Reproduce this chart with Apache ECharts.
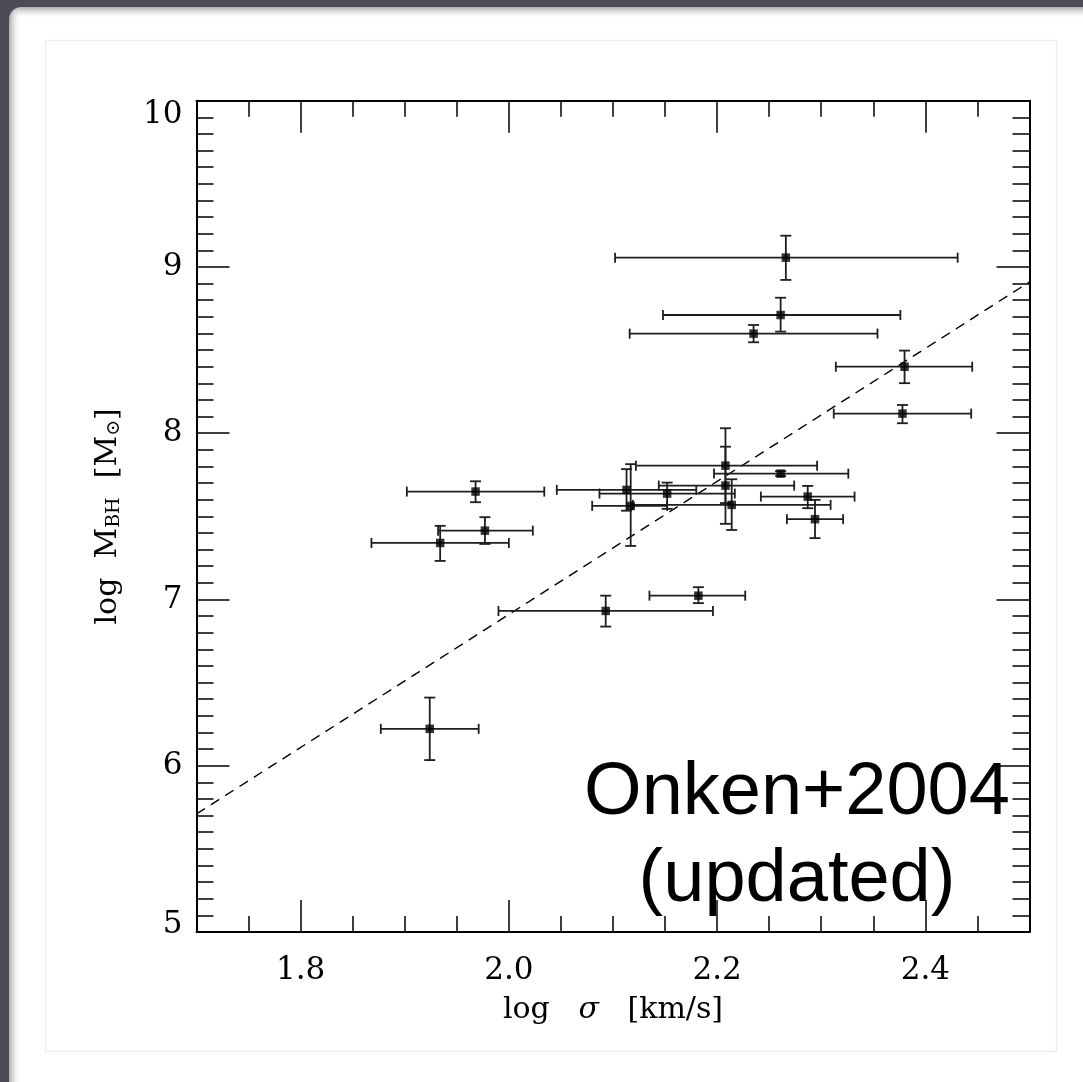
<!DOCTYPE html>
<html>
<head>
<meta charset="utf-8">
<script src="https://cdn.jsdelivr.net/npm/echarts@6/dist/echarts.min.js"></script>
<style>html,body{margin:0;padding:0;background:#4b4b55;}#c{width:1083px;height:1082px;}</style>
</head>
<body>
<div id="c"></div>
<script>
// ---- data ----
const sigma   = [2.266,2.261,2.235,2.380,2.378,2.208,2.261,2.208,2.113,2.117,2.152,2.214,2.287,2.294,1.968,1.977,1.934,2.093,2.182,1.924];
const sigmaLo = [2.102,2.148,2.116,2.314,2.312,2.122,2.197,2.144,2.046,2.080,2.087,2.119,2.242,2.267,1.902,1.932,1.868,1.990,2.135,1.877];
const sigmaHi = [2.431,2.376,2.354,2.445,2.444,2.296,2.326,2.274,2.180,2.152,2.217,2.309,2.332,2.321,2.034,2.023,2.000,2.196,2.227,1.971];
const logM    = [9.056,8.711,8.599,8.400,8.118,7.805,7.757,7.685,7.659,7.563,7.637,7.569,7.619,7.483,7.649,7.414,7.340,6.931,7.023,6.222];
const logMLo  = [8.922,8.611,8.547,8.301,8.060,7.580,7.742,7.455,7.534,7.322,7.545,7.418,7.549,7.369,7.585,7.334,7.232,6.837,6.978,6.034];
const logMHi  = [9.188,8.815,8.651,8.497,8.170,8.030,7.772,7.919,7.784,7.814,7.703,7.723,7.683,7.599,7.711,7.495,7.443,7.023,7.074,6.410];

const fitX = [1.7, 2.5];
const fitY = [5.71, 8.91];

const xTickLabels = [1.8, 2.0, 2.2, 2.4];
const yTickLabels = [5, 6, 7, 8, 9, 10];
const xMinorTicks = [1.75, 1.85, 1.9, 1.95, 2.05, 2.1, 2.15, 2.25, 2.3, 2.35, 2.45];
const yMinorTicks = [];
for (let v = 5; v < 10; v++) { for (let k = 1; k < 10; k++) yMinorTicks.push(Math.round((v + k / 10) * 10) / 10); }

const annotation = ['Onken+2004', '(updated)'];

// ---- chart ----
const chart = echarts.init(document.getElementById('c'), null, {renderer: 'canvas'});
const SERIF = 'DejaVu Serif';
const AX = '#000';
const FS = 31;

const errData = sigma.map((s, i) => [s, sigmaLo[i], sigmaHi[i], logM[i], logMLo[i], logMHi[i]]);
const ptData = sigma.map((s, i) => [s, logM[i]]);
const fitData = fitX.map((x, i) => [x, fitY[i]]);

function xAx(pos, major, withLine, withLabel) {
  return {
    type: 'value', position: pos, min: 1.7, max: 2.5, gridIndex: 0,
    axisLine: {show: withLine, onZero: false, lineStyle: {color: AX, width: 2}},
    axisTick: {show: true, inside: true, length: major ? 32 : 16, customValues: major ? xTickLabels : xMinorTicks,
               lineStyle: {color: AX, width: 1.5}},
    axisLabel: withLabel ? {show: true, customValues: xTickLabels, margin: 23, fontFamily: SERIF, fontSize: FS, color: '#000',
                             formatter: v => v.toFixed(1)} : {show: false},
    splitLine: {show: false}
  };
}
function yAx(pos, major, withLine, withLabel) {
  return {
    type: 'value', position: pos, min: 5, max: 10, gridIndex: 0,
    axisLine: {show: withLine, onZero: false, lineStyle: {color: AX, width: 2}},
    axisTick: {show: true, inside: true, length: major ? 33 : 17, customValues: major ? yTickLabels : yMinorTicks,
               lineStyle: {color: AX, width: 1.5}},
    axisLabel: withLabel ? {show: true, customValues: yTickLabels, margin: 14, fontFamily: SERIF, fontSize: FS, color: '#000',
                             verticalAlignMinLabel: 'bottom', verticalAlignMaxLabel: 'top',
                             formatter: v => (v === 5 ? '{lo|' + v + '}' : (v === 10 ? '{hi|' + v + '}' : String(v))),
                             rich: {lo: {fontFamily: SERIF, fontSize: FS, color: '#000', lineHeight: 14},
                                    hi: {fontFamily: SERIF, fontSize: FS, color: '#000', lineHeight: 28}}}
                          : {show: false},
    splitLine: {show: false}
  };
}

const xa0 = xAx('bottom', true, true, true);
xa0.name = '{n|log   }{i|σ}{n|   [km/s]}';
xa0.nameLocation = 'middle';
xa0.nameGap = 63;
xa0.nameTextStyle = {fontFamily: SERIF, fontSize: 30, color: '#000',
  rich: {n: {fontFamily: SERIF, fontSize: 30, color: '#000'}, i: {fontFamily: SERIF, fontSize: 30, fontStyle: 'italic', color: '#000'}}};

const ya0 = yAx('left', true, true, true);
ya0.name = '{n|log  M}{s|BH}{n|  [M}{s|⊙}{n|]}';
ya0.nameLocation = 'middle';
ya0.nameRotate = 90;
ya0.nameGap = 70;
ya0.nameTextStyle = {fontFamily: SERIF, fontSize: 30, color: '#000',
  rich: {n: {fontFamily: SERIF, fontSize: 30, color: '#000', lineHeight: 36},
         s: {fontFamily: SERIF, fontSize: 19, color: '#000', lineHeight: 36, padding: [12, 0, 0, 0]}}};

const option = {
  animation: false,
  backgroundColor: '#4b4b55',
  graphic: [
    {type: 'rect', z: -10, shape: {x: 9, y: 7, width: 1100, height: 1100, r: [14, 0, 0, 0]},
     style: {fill: '#ffffff'}},
    {type: 'rect', z: -9, shape: {x: 9, y: 7, width: 1100, height: 12, r: [14, 0, 0, 0]},
     style: {fill: new echarts.graphic.LinearGradient(0, 0, 0, 1, [{offset: 0, color: 'rgba(150,150,155,0.8)'}, {offset: 1, color: 'rgba(255,255,255,0)'}])}},
    {type: 'rect', z: -9, shape: {x: 9, y: 7, width: 12, height: 1100, r: [14, 0, 0, 0]},
     style: {fill: new echarts.graphic.LinearGradient(0, 0, 1, 0, [{offset: 0, color: 'rgba(150,150,155,0.8)'}, {offset: 1, color: 'rgba(255,255,255,0)'}])}},
    {type: 'rect', z: -8, shape: {x: 45.5, y: 40.5, width: 1011, height: 1011},
     style: {fill: '#ffffff', stroke: '#eeeeee', lineWidth: 1.5}},
    {type: 'text', z: 100, x: 797, y: 837,
     style: {text: annotation.join('\n'), fontFamily: 'Liberation Sans', fontSize: 74, lineHeight: 87,
             fill: '#000', align: 'center', verticalAlign: 'middle'}}
  ],
  grid: {left: 196.5, top: 100.7, width: 833, height: 831.3, containLabel: false},
  xAxis: [xa0, xAx('bottom', false, false, false), xAx('top', true, true, false), xAx('top', false, false, false)],
  yAxis: [ya0, yAx('left', false, false, false), yAx('right', true, true, false), yAx('right', false, false, false)],
  series: [
    {
      type: 'line', data: fitData, xAxisIndex: 0, yAxisIndex: 0, symbol: 'none', silent: true,
      lineStyle: {color: '#000', width: 1.4, type: [10, 7]}, z: 3
    },
    {
      type: 'custom', data: errData, xAxisIndex: 0, yAxisIndex: 0, z: 4,
      encode: {x: [0, 1, 2], y: [3, 4, 5]},
      renderItem: function (params, api) {
        const x = api.value(0), xl = api.value(1), xh = api.value(2);
        const y = api.value(3), yl = api.value(4), yh = api.value(5);
        const L = api.coord([xl, y]), R = api.coord([xh, y]);
        const B = api.coord([x, yl]), T = api.coord([x, yh]);
        const cw = 5.5, ch = 5;
        const st = {stroke: '#1e1e1e', lineWidth: 1.8};
        const ln = (x1, y1, x2, y2) => ({type: 'line', shape: {x1, y1, x2, y2}, style: st});
        return {type: 'group', children: [
          ln(L[0], L[1], R[0], R[1]),
          ln(L[0], L[1] - ch, L[0], L[1] + ch),
          ln(R[0], R[1] - ch, R[0], R[1] + ch),
          ln(T[0], T[1], B[0], B[1]),
          ln(T[0] - cw, T[1], T[0] + cw, T[1]),
          ln(B[0] - cw, B[1], B[0] + cw, B[1])
        ]};
      }
    },
    {
      type: 'scatter', data: ptData, xAxisIndex: 0, yAxisIndex: 0, symbol: 'rect', symbolSize: 8.5,
      itemStyle: {color: '#000'}, z: 5
    }
  ]
};
chart.setOption(option);
</script>
</body>
</html>
